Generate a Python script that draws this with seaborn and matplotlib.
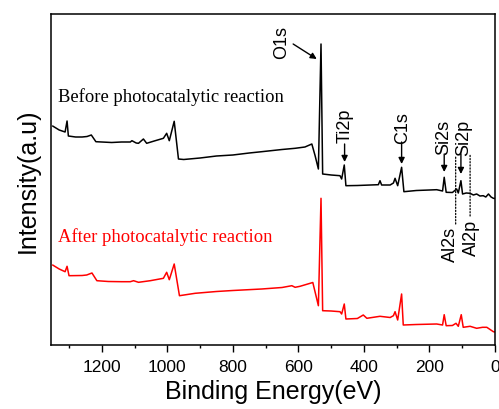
import matplotlib
matplotlib.use("Agg")
import matplotlib.pyplot as plt
import seaborn as sns
import numpy as np

# Binding energy (eV) and intensity (a.u.)
before_energy = [1350, 1330, 1312, 1306, 1302, 1280, 1260, 1245, 1232, 1218, 1200, 1170,
                 1140, 1113, 1108, 1095, 1088, 1073, 1063, 1040, 1012, 1002, 994, 979,
                 966, 950, 900, 850, 800, 750, 712, 650, 610, 580, 559, 549, 539, 531,
                 526, 500, 473, 468, 460, 455, 420, 380, 356, 351, 346, 320, 310, 305,
                 297, 285, 278, 240, 200, 178, 160, 155, 149, 130, 117, 112, 104, 99,
                 88, 76, 66, 56, 46, 36, 28, 20, 12, 5, 0]
before_pix = [127, 131, 133, 122, 137, 138, 138, 137.5, 136, 142.7, 143, 143.5,
              143, 143, 141.7, 144, 144.3, 140, 144.3, 142, 139.3, 134.3, 141.7, 122.3,
              160, 160.5, 159, 157, 156, 154, 152.7, 150.5, 149.3, 148, 145, 156.7, 170, 45,
              175, 176, 176.7, 180, 166, 186.7, 186.5, 186, 185.7, 181.7, 186, 186, 184, 179.3,
              186.7, 168.3, 192.7, 191.5, 191, 190.7, 192, 178.3, 193.3, 193.5, 190, 194, 181.7, 195,
              194, 194.3, 196, 195, 197, 196.7, 198, 195, 198, 199.3, 199.5]
before_intensity = [346 - v for v in before_pix]

after_energy = [1350, 1330, 1312, 1306, 1300, 1260, 1246, 1230, 1215, 1180, 1140, 1113,
                1103, 1088, 1052, 1012, 1002, 994, 979, 963, 915, 850, 800, 712, 650,
                620, 610, 595, 556, 539, 531, 526, 500, 473, 468, 460, 455, 420, 402,
                391, 351, 320, 310, 305, 297, 285, 280, 240, 178, 160, 155, 149, 130,
                119, 112, 103, 97, 76, 56, 38, 25, 5, 0]
after_pix = [266, 270, 272.7, 267.3, 276.7, 276.5, 276, 274, 281.7, 282.5, 282.7, 282.7,
             281.7, 283.3, 281.7, 279.3, 273.3, 280.7, 265, 296.7, 294.3, 292.5, 291.5, 290, 288.5,
             286.7, 288.3, 287.3, 283.5, 306.7, 199.3, 311.7, 312, 312.7, 315, 305, 320, 319.5, 316,
             319.3, 317.3, 318.5, 316.7, 312.7, 321, 295, 326, 325.5, 325, 326, 315.7, 326.7, 326.5,
             324.3, 327.3, 315.7, 328.3, 327.3, 329.3, 328.3, 328.3, 332.7, 333]
after_intensity = [346 - v for v in after_pix]

xticks_major = [1200, 1000, 800, 600, 400, 200, 0]

sns.set_style("ticks")
plt.rcParams['font.family'] = ['Liberation Sans', 'DejaVu Sans']
plt.rcParams['text.color'] = 'black'
plt.rcParams['axes.labelcolor'] = 'black'
plt.rcParams['xtick.color'] = 'black'
plt.rcParams['axes.edgecolor'] = 'black'

fig = plt.figure(figsize=(4.99, 4.10), dpi=100)
ax = fig.add_axes([51 / 499, 64 / 410, 444 / 499, 331 / 410])

sns.lineplot(x=before_energy, y=before_intensity, color='black', lw=1.1,
             sort=False, estimator=None, ax=ax)
sns.lineplot(x=after_energy, y=after_intensity, color='#ff0000', lw=1.1,
             sort=False, estimator=None, ax=ax)

ax.set_xlim(1355, 0)
ax.set_ylim(0, 331)
ax.set_xticks(xticks_major)
ax.set_xticks(np.arange(1300, 0, -200), minor=True)
ax.set_yticks([])
ax.tick_params(axis='x', which='major', direction='out', length=5, width=1, labelsize=12.5, pad=5, color='black')
ax.tick_params(axis='x', which='minor', direction='out', length=2.5, width=1, color='black')
for s in ax.spines.values():
    s.set_visible(True)
    s.set_linewidth(1.1)
    s.set_color('black')

ax.set_xlabel('Binding Energy(eV)', fontsize=18, labelpad=4)
ax.set_ylabel('Intensity(a.u)', fontsize=18, labelpad=8)

serif = ['Liberation Serif', 'DejaVu Serif']
ax.text(1333, 249, 'Before photocatalytic reaction', family=serif, fontsize=13.4,
        color='black', ha='left', va='center')
ax.text(1333, 109, 'After photocatalytic reaction', family=serif, fontsize=13.4,
        color='#ff0000', ha='left', va='center')

arrow = dict(arrowstyle='-|>', color='black', lw=1, mutation_scale=9, shrinkA=0, shrinkB=0)
dotted = dict(arrowstyle='-', ls=(0, (1, 1.5)), lw=0.9, color='black', shrinkA=0, shrinkB=0)

# peak labels
ax.text(650, 303, 'O1s', rotation=90, fontsize=13, ha='center', va='center')
ax.annotate('', xy=(544, 286), xytext=(616, 301), arrowprops=arrow)
ax.text(458, 220, 'Ti2p', rotation=90, fontsize=13, ha='center', va='center')
ax.annotate('', xy=(459, 183), xytext=(459, 201), arrowprops=arrow)
ax.text(283, 218, 'C1s', rotation=90, fontsize=13, ha='center', va='center')
ax.annotate('', xy=(285, 181), xytext=(285, 203), arrowprops=arrow)
ax.text(158, 208.5, 'Si2s', rotation=90, fontsize=13, ha='center', va='center')
ax.annotate('', xy=(155, 173), xytext=(155, 191), arrowprops=arrow)
ax.text(97, 208.5, 'Si2p', rotation=90, fontsize=13, ha='center', va='center')
ax.annotate('', xy=(104, 171), xytext=(104, 191), arrowprops=arrow)

ax.annotate('', xy=(120, 189), xytext=(120, 121), arrowprops=dotted)
ax.annotate('', xy=(76, 190), xytext=(76, 129), arrowprops=dotted)
ax.text(137, 102, 'Al2s', rotation=90, fontsize=13, ha='center', va='center')
ax.text(71, 108.5, 'Al2p', rotation=90, fontsize=13, ha='center', va='center')

fig.savefig('out.png', dpi=100)
